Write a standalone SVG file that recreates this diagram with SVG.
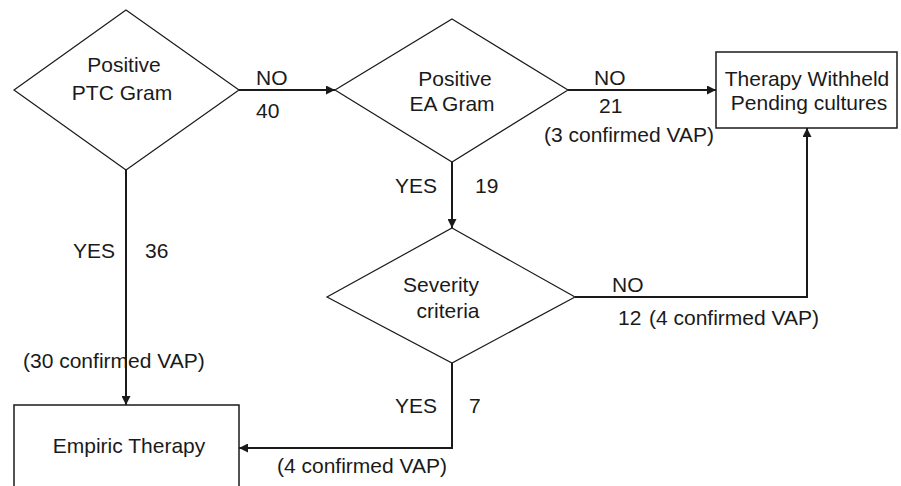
<svg xmlns="http://www.w3.org/2000/svg" width="901" height="486" viewBox="0 0 901 486">
<style>
text{font-family:"Liberation Sans",Arial,sans-serif;font-size:21px;fill:#1a1a1a}
.c{text-anchor:middle}
.shape{fill:none;stroke:#1a1a1a;stroke-width:1.2}
.box{fill:none;stroke:#1a1a1a;stroke-width:1.5}
.conn{fill:none;stroke:#1a1a1a;stroke-width:2}
</style>
<defs>
<marker id="arr" viewBox="0 0 10 10" refX="10" refY="5" markerWidth="10" markerHeight="9" markerUnits="userSpaceOnUse" orient="auto">
<path d="M0,0 L10,5 L0,10 Z" fill="#1a1a1a"/>
</marker>
</defs>
<rect width="901" height="486" fill="#fff"/>
<g id="ptc">
<polygon class="shape" points="126,10 239,90 126,170 14,90"/>
<text class="c" x="124" y="72">Positive</text>
<text class="c" x="122" y="100">PTC Gram</text>
</g>
<g id="ea">
<polygon class="shape" points="452,19 568,90 452,162 335,90"/>
<text class="c" x="455" y="86">Positive</text>
<text class="c" x="452" y="111">EA Gram</text>
</g>
<g id="withheld">
<rect class="box" x="716" y="52" width="181" height="76"/>
<text class="c" x="807" y="86">Therapy Withheld</text>
<text class="c" x="809" y="110">Pending cultures</text>
</g>
<g id="severity">
<polygon class="shape" points="452,228 575,297 452,363 327,297"/>
<text class="c" x="441" y="292">Severity</text>
<text class="c" x="448" y="318">criteria</text>
</g>
<g id="empiric">
<rect class="box" x="14" y="405" width="225" height="90"/>
<text class="c" x="129" y="453">Empiric Therapy</text>
</g>
<g id="connectors">
<path class="conn" d="M239,90 H335" marker-end="url(#arr)"/>
<path class="conn" d="M568,90 H716" marker-end="url(#arr)"/>
<path class="conn" d="M452,162 V228" marker-end="url(#arr)"/>
<path class="conn" d="M575,297 H807 V128" marker-end="url(#arr)"/>
<path class="conn" d="M126,170 V405" marker-end="url(#arr)"/>
<path class="conn" d="M452,363 V448 H239" marker-end="url(#arr)"/>
</g>
<g id="labels">
<text x="256" y="85">NO</text>
<text x="256" y="118">40</text>
<text x="594" y="85">NO</text>
<text x="599" y="113">21</text>
<text x="544" y="142">(3 confirmed VAP)</text>
<text x="395" y="193">YES</text>
<text x="475" y="193">19</text>
<text x="73" y="258">YES</text>
<text x="145" y="258">36</text>
<text x="23" y="368">(30 confirmed VAP)</text>
<text x="612" y="292">NO</text>
<text x="618" y="325">12</text>
<text x="649" y="325">(4 confirmed VAP)</text>
<text x="395" y="413">YES</text>
<text x="469" y="413">7</text>
<text x="277" y="473">(4 confirmed VAP)</text>
</g>
</svg>
